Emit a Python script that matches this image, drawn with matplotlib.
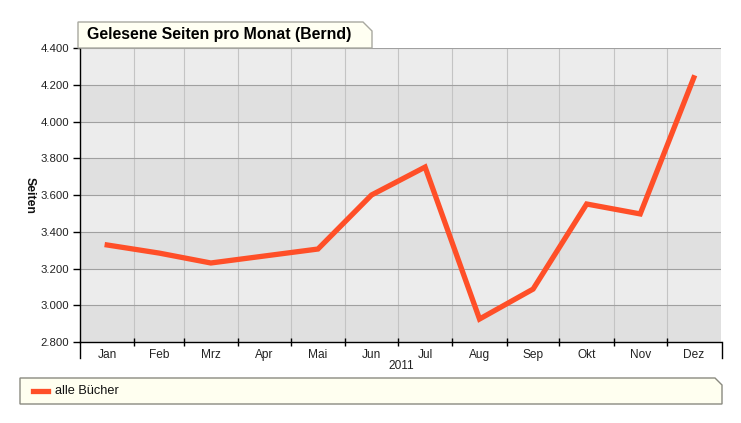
import matplotlib
matplotlib.use("Agg")
import matplotlib.pyplot as plt
from matplotlib.patches import Polygon
from matplotlib.lines import Line2D

plt.rcParams['font.family'] = ['Liberation Sans', 'DejaVu Sans']

months = ["Jan", "Feb", "Mrz", "Apr", "Mai", "Jun", "Jul", "Aug", "Sep", "Okt", "Nov", "Dez"]
month_days = [31, 28, 31, 30, 31, 30, 31, 31, 30, 31, 30, 31]
values = [3328, 3284, 3230, 3268, 3306, 3600, 3752, 2925, 3088, 3551, 3497, 4238]
y_ticks = [2800, 3000, 3200, 3400, 3600, 3800, 4000, 4200, 4400]
title = "Gelesene Seiten pro Monat (Bernd)"
y_label = "Seiten"
year_label = "2011"
series_name = "alle Bücher"

W, H = 741, 423
fig = plt.figure(figsize=(W / 100, H / 100), dpi=100)
fig.patch.set_facecolor("white")

def fx(px):
    return px / W

def fy(py):
    return 1 - py / H

L, R, T, B = 80, 721, 48, 342
ax = fig.add_axes([fx(L), fy(B), fx(R) - fx(L), fy(T) - fy(B)])

# month boundaries and midpoints (day-of-year)
bounds = [0]
for d in month_days:
    bounds.append(bounds[-1] + d)
mids = [(bounds[i] + bounds[i + 1]) / 2 for i in range(12)]

ax.set_xlim(0, bounds[-1])
ax.set_ylim(y_ticks[0], y_ticks[-1])

# alternating bands
for i in range(len(y_ticks) - 1):
    col = "#e0e0e0" if i % 2 == 0 else "#ececec"
    ax.axhspan(y_ticks[i], y_ticks[i + 1], color=col, zorder=0, lw=0)

for b in bounds[1:-1]:
    ax.axvline(b, color="#c4c4c4", lw=0.8, zorder=1)
for yt in y_ticks[1:]:
    ax.axhline(yt, color="#a0a0a0", lw=0.8, zorder=1)

ax.plot(mids, values, color="#ff4f28", lw=3.8, solid_joinstyle="miter", zorder=3)

for s in ["top", "right"]:
    ax.spines[s].set_visible(False)
ax.spines["left"].set_color("black")
ax.spines["bottom"].set_color("black")
ax.spines["left"].set_linewidth(1)
ax.spines["bottom"].set_linewidth(1)

ax.set_yticks(y_ticks)
ax.set_yticklabels([f"{v:,}".replace(",", ".") for v in y_ticks], fontsize=8.2, color="#222222")
ax.tick_params(axis="y", direction="out", length=5, width=1, pad=3)

ax.set_xticks(bounds[1:-1])
ax.set_xticklabels([])
ax.tick_params(axis="x", direction="inout", length=6, width=1)
ax.set_xticks(mids, minor=True)
ax.set_xticklabels(months, minor=True, fontsize=8.6, color="#222222")
ax.tick_params(axis="x", which="minor", length=0, pad=5)

# lines extending below axis at left and right
fig.add_artist(Line2D([fx(L), fx(L)], [fy(B), fy(358)], color="black", lw=1))
fig.add_artist(Line2D([fx(R + 1), fx(R + 1)], [fy(B), fy(358)], color="black", lw=1))

fig.text(fx(401), fy(366), year_label, fontsize=8.6, ha="center", va="center", color="#222222")
fig.text(fx(30), fy(195), y_label, fontsize=8.8, fontweight="bold", rotation=270,
         ha="center", va="center", color="#111111")

# title tab
tb = [(78, 48), (78, 22), (363, 22), (372, 31), (372, 48)]
fig.add_artist(Polygon([(fx(x), fy(y)) for x, y in tb], closed=True,
                       facecolor="#fffff2", edgecolor="#a8a8a0", lw=1, transform=fig.transFigure))
fig.text(fx(87), fy(34.5), title, fontsize=11.4, fontweight="bold", ha="left", va="center", color="black")

# legend box
lb = [(20, 404), (20, 378), (715, 378), (722, 385), (722, 404)]
fig.add_artist(Polygon([(fx(x), fy(y)) for x, y in lb], closed=True,
                       facecolor="#fffff0", edgecolor="#8a8a80", lw=1, transform=fig.transFigure))
fig.add_artist(Line2D([fx(33), fx(48)], [fy(390.5), fy(390.5)], color="#ff4f28", lw=3.8))
fig.text(fx(55), fy(390.5), series_name, fontsize=9.2, ha="left", va="center", color="#111111")

fig.savefig("out.png", dpi=100)
